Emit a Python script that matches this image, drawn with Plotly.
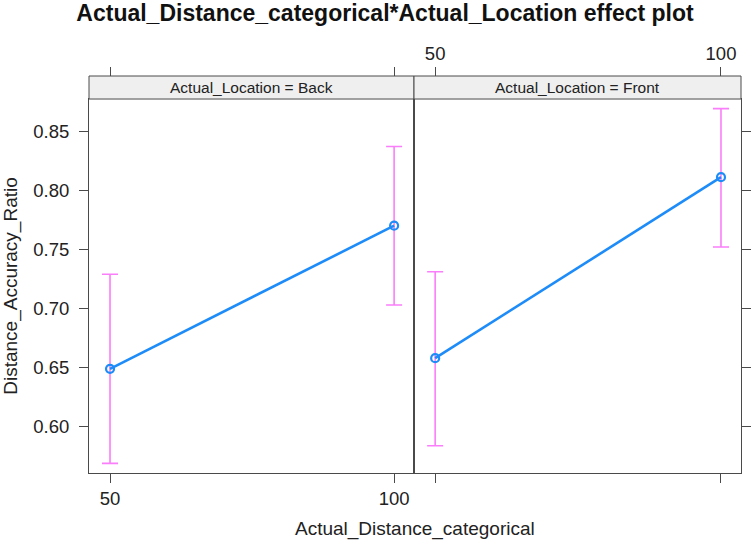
import plotly.graph_objects as go

# ---- data ----
distance = [50, 100]
panels = ["Back", "Front"]
fit_back = [0.649, 0.770]
lower_back = [0.569, 0.703]
upper_back = [0.729, 0.837]
fit_front = [0.658, 0.811]
lower_front = [0.584, 0.752]
upper_front = [0.731, 0.869]
y_ticks = [0.60, 0.65, 0.70, 0.75, 0.80, 0.85]
x_ticks = [50, 100]

FONT = "Liberation Sans, Arial, Helvetica, sans-serif"
LINE_C = "#1E8CF8"
CI_C = "#FA7EFA"
FRAME_C = "#4a4a4a"
XR = [46.3, 103.5]
YR = [0.5609, 0.8771]
YTOP = 0.942

fig = go.Figure()

series = [
    ("x", "y", fit_back, lower_back, upper_back),
    ("x2", "y2", fit_front, lower_front, upper_front),
]
for xa, ya, fit, lo, up in series:
    fig.add_trace(go.Scatter(
        x=distance, y=fit, xaxis=xa, yaxis=ya, mode="markers",
        marker=dict(size=1, opacity=0),
        error_y=dict(type="data", symmetric=False,
                     array=[u - f for u, f in zip(up, fit)],
                     arrayminus=[f - l for f, l in zip(fit, lo)],
                     color=CI_C, thickness=1.6, width=8),
        showlegend=False, hoverinfo="skip"))
    fig.add_trace(go.Scatter(
        x=distance, y=fit, xaxis=xa, yaxis=ya, mode="lines+markers",
        line=dict(color=LINE_C, width=2.6),
        marker=dict(symbol="circle-open", size=8, color=LINE_C,
                    line=dict(width=2.2, color=LINE_C)),
        showlegend=False))

# invisible carriers so the overlay (top / right) axes are drawn
for xa, ya, fit in [("x3", "y", fit_back), ("x4", "y2", fit_front), ("x2", "y3", fit_front)]:
    fig.add_trace(go.Scatter(x=distance, y=fit, xaxis=xa, yaxis=ya, mode="markers",
                             marker=dict(size=1, opacity=0), showlegend=False,
                             hoverinfo="skip"))

d_split = 325 / 652
common_x = dict(range=XR, tickvals=x_ticks, ticks="outside", ticklen=9,
                tickcolor=FRAME_C, tickwidth=1, showgrid=False, zeroline=False,
                automargin=False,
                tickfont=dict(family=FONT, size=18.5, color="#222"))
common_y = dict(range=YR, tickvals=y_ticks, ticklen=9,
                tickcolor=FRAME_C, tickwidth=1, showgrid=False, zeroline=False,
                domain=[0, YTOP], tickformat=".2f", automargin=False,
                tickfont=dict(family=FONT, size=18.5, color="#222"))

fig.update_layout(
    width=751, height=542,
    margin=dict(l=89, r=10, t=76, b=69, autoexpand=False),
    plot_bgcolor="white", paper_bgcolor="white",
    title=dict(text="<b>Actual_Distance_categorical*Actual_Location effect plot</b>",
               x=385 / 751, xanchor="center", y=1 - 13 / 542, yanchor="middle",
               automargin=False,
               font=dict(family=FONT, size=23, color="#111")),
    xaxis=dict(domain=[0, d_split], anchor="y", showline=True, mirror=True,
               linecolor=FRAME_C, linewidth=1, **common_x),
    xaxis2=dict(domain=[d_split, 1], anchor="y2", showline=True, mirror=True,
                linecolor=FRAME_C, linewidth=1, showticklabels=False, **common_x),
    xaxis3=dict(domain=[0, d_split], overlaying="x", anchor="free", position=1,
                side="top", showticklabels=False, showline=False, **common_x),
    xaxis4=dict(domain=[d_split, 1], overlaying="x2", anchor="free", position=1,
                side="top", showline=False, **common_x),
    yaxis=dict(anchor="x", showline=True, mirror=True, linecolor=FRAME_C,
               linewidth=1, ticks="outside", ticklabelstandoff=6,
               title=dict(text="Distance_Accuracy_Ratio", standoff=10,
                          font=dict(family=FONT, size=19, color="#222")),
               **common_y),
    yaxis2=dict(anchor="x2", showline=True, mirror=True, linecolor=FRAME_C,
                linewidth=1, showticklabels=False, ticks="", **common_y),
    yaxis3=dict(anchor="x2", overlaying="y2", side="right", ticks="outside",
                showticklabels=False, showline=False, **common_y),
)

# strips
for xa, name in [("x", panels[0]), ("x2", panels[1])]:
    fig.add_shape(type="rect", xref=f"{xa} domain", yref="paper",
                  x0=0, x1=1, y0=YTOP, y1=1,
                  fillcolor="#EFEFEF", line=dict(color=FRAME_C, width=1),
                  layer="above")
    fig.add_annotation(text=f"Actual_Location = {name}", xref=f"{xa} domain",
                       yref="paper", x=0.5, y=(YTOP + 1) / 2, showarrow=False,
                       xanchor="center", yanchor="middle",
                       font=dict(family=FONT, size=15.5, color="#222"))

fig.add_annotation(text="Actual_Distance_categorical", xref="paper", yref="paper",
                   x=0.5, y=-(529 - 473) / 397, showarrow=False,
                   xanchor="center", yanchor="middle",
                   font=dict(family=FONT, size=19, color="#222"))

fig.write_html("out.html", config={"displayModeBar": False},
               post_script="document.body.style.margin='0';document.body.style.overflow='hidden';")
